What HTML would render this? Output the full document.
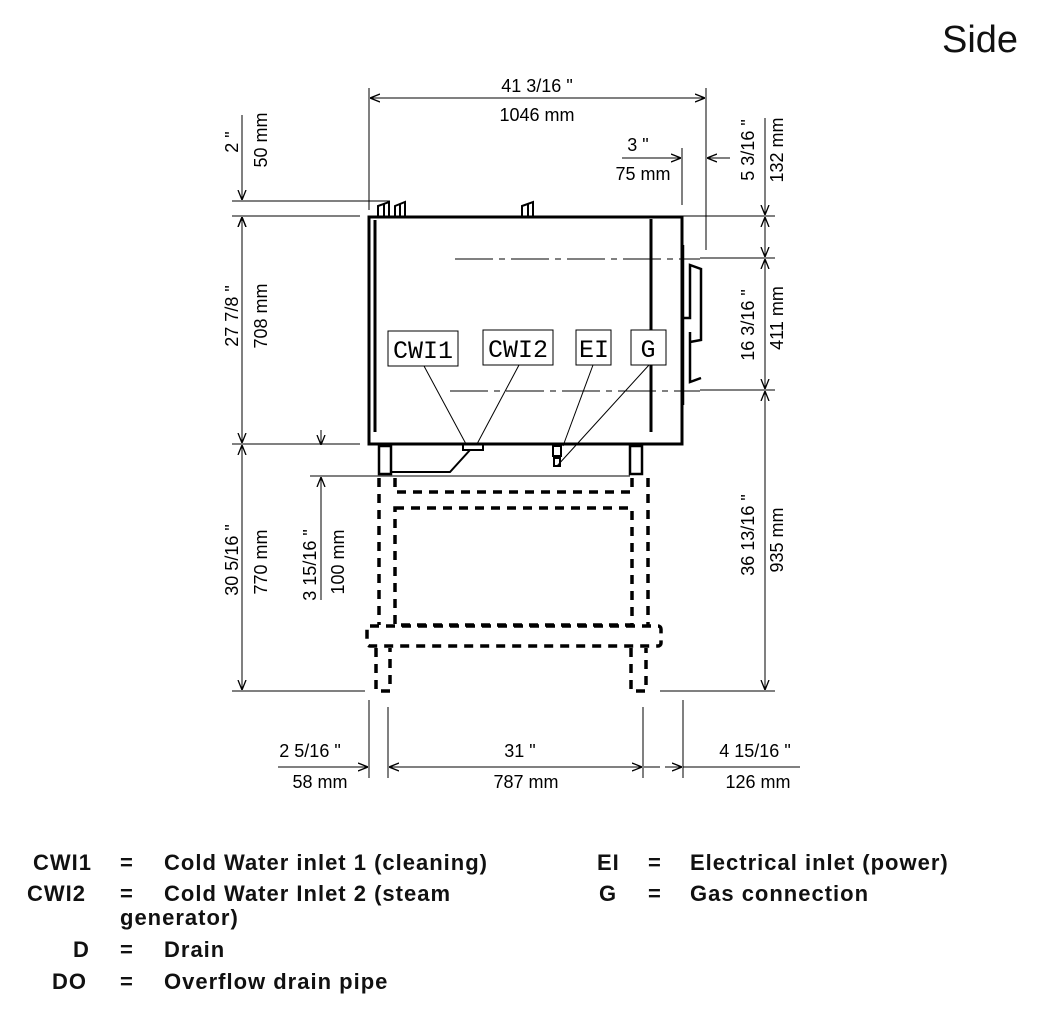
<!DOCTYPE html>
<html><head><meta charset="utf-8"><style>
html,body{margin:0;padding:0;background:#fff;}
body{width:1040px;height:1022px;overflow:hidden;position:relative;}
svg{position:absolute;left:0;top:0;}
.d{font-family:"Liberation Sans Narrow","Liberation Sans",sans-serif;font-size:18px;fill:#000;}
.lg{font-family:"Liberation Sans","DejaVu Sans",sans-serif;font-size:22px;fill:#111;font-weight:bold;letter-spacing:1px}
</style></head><body>
<svg width="1040" height="1022" viewBox="0 0 1040 1022">
<defs>
<marker id="a" viewBox="0 0 10 10" refX="10" refY="5" markerWidth="10" markerHeight="10" orient="auto-start-reverse" markerUnits="userSpaceOnUse"><path d="M0,1 L10,5 L0,9" fill="none" stroke="#000" stroke-width="1.3"/></marker>
</defs>
<text x="980" y="52" font-family="Liberation Sans,sans-serif" font-size="38" text-anchor="middle" fill="#111">Side</text>
<g stroke="#000" stroke-width="1" fill="none">
<line x1="369" y1="88" x2="369" y2="210"/><line x1="706" y1="88" x2="706" y2="250"/>
<line x1="370" y1="98" x2="705" y2="98" marker-start="url(#a)" marker-end="url(#a)"/>
<line x1="682" y1="148" x2="682" y2="205"/>
<line x1="622" y1="158" x2="681" y2="158" marker-end="url(#a)"/>
<line x1="730" y1="158" x2="707" y2="158" marker-end="url(#a)"/>
<line x1="232" y1="201" x2="390" y2="201"/>
<line x1="232" y1="216" x2="360" y2="216"/>
<line x1="232" y1="444" x2="360" y2="444"/>
<line x1="232" y1="691" x2="365" y2="691"/>
<line x1="242" y1="115" x2="242" y2="200" marker-end="url(#a)"/>
<line x1="242" y1="235" x2="242" y2="217" marker-end="url(#a)"/>
<line x1="242" y1="217" x2="242" y2="443" marker-start="url(#a)" marker-end="url(#a)"/>
<line x1="242" y1="445" x2="242" y2="690" marker-start="url(#a)" marker-end="url(#a)"/>
<line x1="310" y1="476" x2="630" y2="476"/>
<line x1="321" y1="430" x2="321" y2="445" marker-end="url(#a)"/>
<line x1="321" y1="600" x2="321" y2="477" marker-end="url(#a)"/>
<line x1="680" y1="216" x2="775" y2="216"/>
<line x1="700" y1="258" x2="775" y2="258"/>
<line x1="700" y1="390" x2="775" y2="390"/>
<line x1="660" y1="691" x2="775" y2="691"/>
<line x1="765" y1="118" x2="765" y2="215" marker-end="url(#a)"/>
<line x1="765" y1="217" x2="765" y2="257" marker-start="url(#a)" marker-end="url(#a)"/>
<line x1="765" y1="259" x2="765" y2="389" marker-start="url(#a)" marker-end="url(#a)"/>
<line x1="765" y1="391" x2="765" y2="690" marker-start="url(#a)" marker-end="url(#a)"/>
<line x1="369" y1="700" x2="369" y2="778"/><line x1="388" y1="707" x2="388" y2="778"/>
<line x1="643" y1="707" x2="643" y2="778"/><line x1="683" y1="700" x2="683" y2="778"/>
<line x1="278" y1="767" x2="368" y2="767" marker-end="url(#a)"/>
<line x1="389" y1="767" x2="642" y2="767" marker-start="url(#a)" marker-end="url(#a)"/>
<line x1="644" y1="767" x2="660" y2="767"/>
<line x1="665" y1="767" x2="682" y2="767" marker-end="url(#a)"/>
<line x1="683" y1="767" x2="800" y2="767"/>
<line x1="455" y1="259" x2="700" y2="259" stroke-dasharray="38,6,6,6"/>
<line x1="450" y1="391" x2="700" y2="391" stroke-dasharray="38,6,6,6"/>
</g>
<g stroke="#000" fill="none">
<rect x="369" y="217" width="313" height="227" stroke-width="3"/>
<line x1="375" y1="220" x2="375" y2="432" stroke-width="3"/>
<line x1="651" y1="219" x2="651" y2="432" stroke-width="3"/>
<line x1="683" y1="245" x2="683" y2="405" stroke-width="2.5"/>
<path d="M683,318 H690 V265 L701,269 V340 L690,342 M690,332 V382 L701,378" stroke-width="2.5"/>
<path d="M378,216 V206 L389,202 V216 M384,216 V204 M395,216 V206 L405,202 V216 M400,216 V204 M522,216 V206 L533,202 V216 M528,216 V204" stroke-width="2"/>
<rect x="379" y="446" width="12" height="28" stroke-width="2.5"/>
<rect x="630" y="446" width="12" height="28" stroke-width="2.5"/>
<path d="M391,472 H450 L470,450" stroke-width="2"/>
<rect x="463" y="444" width="20" height="6" stroke-width="2"/>
<rect x="553" y="446" width="8" height="10" stroke-width="2"/>
<rect x="554" y="458" width="6" height="8" stroke-width="2"/>
<g stroke-width="3.5" stroke-dasharray="9,7">
<line x1="379" y1="478" x2="379" y2="625"/>
<line x1="648" y1="478" x2="648" y2="625"/>
<path d="M395,478 V492 H632 V478"/>
<rect x="395" y="508" width="237" height="117"/>
<rect x="367" y="626" width="294" height="20" rx="3"/>
<path d="M376,648 V691 H390 V648"/>
<path d="M631,648 V691 H646 V648"/>
</g>
</g>
<g stroke="#000" fill="#fff" stroke-width="1">
<rect x="388" y="331" width="70" height="35"/>
<rect x="483" y="330" width="70" height="35"/>
<rect x="576" y="330" width="35" height="35"/>
<rect x="631" y="330" width="35" height="35"/>
<line x1="424" y1="366" x2="466" y2="444"/>
<line x1="519" y1="365" x2="477" y2="444"/>
<line x1="593" y1="365" x2="563" y2="446"/>
<line x1="649" y1="365" x2="557" y2="466"/>
</g>
<g font-family="Liberation Mono,monospace" font-size="25" text-anchor="middle" fill="#000">
<text x="423" y="358">CWI1</text><text x="518" y="357">CWI2</text>
<text x="594" y="357">EI</text><text x="648" y="357">G</text>
</g>
<g class="d" text-anchor="middle">
<text x="537" y="92">41 3/16 "</text><text x="537" y="121">1046 mm</text>
<text x="638" y="151">3 "</text><text x="643" y="180">75 mm</text>
<text x="310" y="757">2 5/16 "</text><text x="320" y="788">58 mm</text>
<text x="520" y="757">31 "</text><text x="526" y="788">787 mm</text>
<text x="755" y="757">4 15/16 "</text><text x="758" y="788">126 mm</text>
<text transform="translate(238,142) rotate(-90)">2 "</text>
<text transform="translate(267,140) rotate(-90)">50 mm</text>
<text transform="translate(238,316) rotate(-90)">27 7/8 "</text>
<text transform="translate(267,316) rotate(-90)">708 mm</text>
<text transform="translate(238,560) rotate(-90)">30 5/16 "</text>
<text transform="translate(267,562) rotate(-90)">770 mm</text>
<text transform="translate(316,565) rotate(-90)">3 15/16 "</text>
<text transform="translate(344,562) rotate(-90)">100 mm</text>
<text transform="translate(754,150) rotate(-90)">5 3/16 "</text>
<text transform="translate(783,150) rotate(-90)">132 mm</text>
<text transform="translate(754,325) rotate(-90)">16 3/16 "</text>
<text transform="translate(783,318) rotate(-90)">411 mm</text>
<text transform="translate(754,535) rotate(-90)">36 13/16 "</text>
<text transform="translate(783,540) rotate(-90)">935 mm</text>
</g>
<g class="lg">
<text x="33" y="870">CWI1</text><text x="120" y="870">=</text><text x="164" y="870">Cold Water inlet 1 (cleaning)</text>
<text x="27" y="901">CWI2</text><text x="120" y="901">=</text><text x="164" y="901">Cold Water Inlet 2 (steam</text>
<text x="120" y="925">generator)</text>
<text x="73" y="957">D</text><text x="120" y="957">=</text><text x="164" y="957">Drain</text>
<text x="52" y="989">DO</text><text x="120" y="989">=</text><text x="164" y="989">Overflow drain pipe</text>
<text x="597" y="870">EI</text><text x="648" y="870">=</text><text x="690" y="870">Electrical inlet (power)</text>
<text x="599" y="901">G</text><text x="648" y="901">=</text><text x="690" y="901">Gas connection</text>
</g>
</svg>
</body></html>
